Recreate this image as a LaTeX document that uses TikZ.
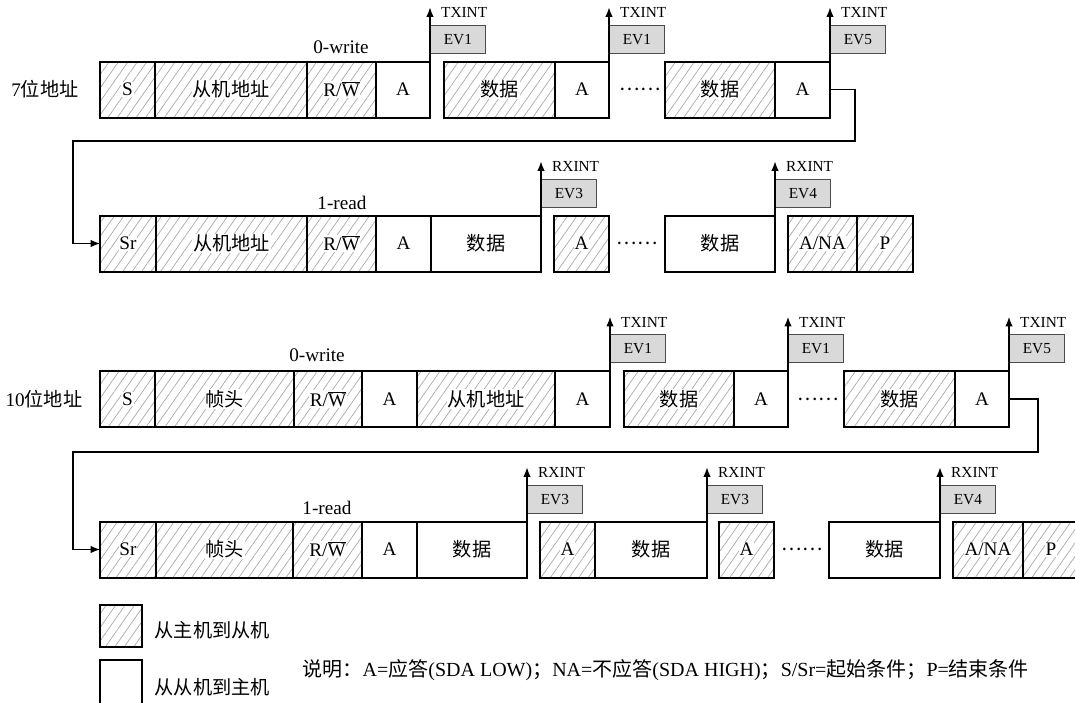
\documentclass[tikz,border=0pt]{standalone}
\usepackage{fontspec}
\setmainfont{Liberation Serif}
\newfontfamily\cjk{Noto Sans CJK SC}
\usepackage{tikz}
\usetikzlibrary{
  arrows.meta,
  patterns.meta,
  positioning
}

\begin{document}
\begin{tikzpicture}[x=0.75pt, y=-0.75pt,
  txt/.style={font=\fontsize{14.4}{17}\selectfont},
  small/.style={font=\fontsize{11.5}{13}\selectfont},
  wd/.style={minimum width=#1*0.75pt},
  field/.style={draw, line width=1.5pt, outer sep=0pt, inner sep=0pt, minimum height=42pt, txt},
  hatch/.style={pattern={Lines[angle=55, distance=5.8pt, line width=0.5pt]}, pattern color=black!35},
  rx/.style={field},
  tx/.style={field, hatch, label={[txt, fill=white, inner sep=0.6pt]center:#1}},
  evbox/.style={draw=black!70, fill=black!15, line width=0.6pt, minimum width=41.25pt, minimum height=21pt, inner sep=0pt, anchor=south west, small},
  irq/.style={small, anchor=west, inner sep=0pt, xshift=8pt, yshift=-4pt},
  link/.style={line width=0.8pt, -{Latex[length=7pt,width=5.5pt]}},
  ]
  \useasboundingbox (0,0) rectangle (1075,703);

  % 7-bit address, write
  \node[txt] (lab7) at (45,89.5) {7{\cjk 位地址}};
  \node[tx={S}, wd=55, anchor=west] (r1s) at (100,89.5) {};
  \node[tx={\cjk 从机地址}, wd=152, right=0pt of r1s] (r1addr) {};
  \node[tx={R/$\overline{\mbox{W}}$}, wd=69, right=0pt of r1addr] (r1rw) {};
  \node[rx, wd=54, right=0pt of r1rw] (r1a0) {A};
  \node[tx={\cjk 数据}, wd=111, right=10.5pt of r1a0] (r1d1) {};
  \node[rx, wd=54, right=0pt of r1d1] (r1a1) {A};
  \node[txt] (r1dots) at (640,89.5) {\cjk ……};
  \node[tx={\cjk 数据}, wd=110, right=42pt of r1a1] (r1d2) {};
  \node[rx, wd=55, right=0pt of r1d2] (r1a2) {A};
  \node[txt] (r1mode) at (341,47) {0-write};

  % 7-bit address, read
  \node[tx={Sr}, wd=56, anchor=west] (r2sr) at (100,243.5) {};
  \node[tx={\cjk 从机地址}, wd=151, right=0pt of r2sr] (r2addr) {};
  \node[tx={R/$\overline{\mbox{W}}$}, wd=69, right=0pt of r2addr] (r2rw) {};
  \node[rx, wd=55, right=0pt of r2rw] (r2a0) {A};
  \node[rx, wd=110, right=0pt of r2a0] (r2d1) {\cjk 数据};
  \node[tx={A}, wd=55, right=9.75pt of r2d1] (r2a1) {};
  \node[txt] (r2dots) at (637,243.5) {\cjk ……};
  \node[rx, wd=110, right=42pt of r2a1] (r2d2) {\cjk 数据};
  \node[tx={A/NA}, wd=69, right=9.75pt of r2d2] (r2na) {};
  \node[tx={P}, wd=56, right=0pt of r2na] (r2p) {};
  \node[txt] (r2mode) at (342,203) {1-read};

  % 10-bit address, write
  \node[txt] (lab10) at (44,399) {10{\cjk 位地址}};
  \node[tx={S}, wd=55, anchor=west] (r3s) at (100,399) {};
  \node[tx={\cjk 帧头}, wd=139, right=0pt of r3s] (r3head) {};
  \node[tx={R/$\overline{\mbox{W}}$}, wd=68, right=0pt of r3head] (r3rw) {};
  \node[rx, wd=55, right=0pt of r3rw] (r3a0) {A};
  \node[tx={\cjk 从机地址}, wd=138, right=0pt of r3a0] (r3addr) {};
  \node[rx, wd=55, right=0pt of r3addr] (r3a1) {A};
  \node[tx={\cjk 数据}, wd=110, right=10.5pt of r3a1] (r3d1) {};
  \node[rx, wd=54, right=0pt of r3d1] (r3a2) {A};
  \node[txt] (r3dots) at (818,399) {\cjk ……};
  \node[tx={\cjk 数据}, wd=111, right=42pt of r3a2] (r3d2) {};
  \node[rx, wd=54, right=0pt of r3d2] (r3a3) {A};
  \node[txt] (r3mode) at (317,355) {0-write};

  % 10-bit address, read
  \node[tx={Sr}, wd=56, anchor=west] (r4sr) at (100,549.5) {};
  \node[tx={\cjk 帧头}, wd=137, right=0pt of r4sr] (r4head) {};
  \node[tx={R/$\overline{\mbox{W}}$}, wd=69, right=0pt of r4head] (r4rw) {};
  \node[rx, wd=55, right=0pt of r4rw] (r4a0) {A};
  \node[rx, wd=110, right=0pt of r4a0] (r4d1) {\cjk 数据};
  \node[tx={A}, wd=55, right=9.75pt of r4d1] (r4a1) {};
  \node[rx, wd=112, right=0pt of r4a1] (r4d2) {\cjk 数据};
  \node[tx={A}, wd=55, right=9pt of r4d2] (r4a2) {};
  \node[txt] (r4dots) at (802,549.5) {\cjk ……};
  \node[rx, wd=111, right=41.25pt of r4a2] (r4d3) {\cjk 数据};
  \node[tx={A/NA}, wd=70, right=9.75pt of r4d3] (r4na) {};
  \node[tx={P}, wd=56, right=0pt of r4na] (r4p) {};
  \node[txt] (r4mode) at (327,508) {1-read};

  % interrupt flags
  \foreach \f/\ev/\kind in {r1a0/EV1/TXINT, r1a1/EV1/TXINT, r1a2/EV5/TXINT,
      r2d1/EV3/RXINT, r2d2/EV4/RXINT,
      r3a1/EV1/TXINT, r3a2/EV1/TXINT, r3a3/EV5/TXINT,
      r4d1/EV3/RXINT, r4d2/EV3/RXINT, r4d3/EV4/RXINT} {
    \node[evbox] (\f-ev) at ([yshift=6pt]\f.north east) {\ev};
    \coordinate (\f-tip) at ([yshift=40.5pt]\f.north east);
    \draw[link] (\f.north east) -- (\f-tip) node[irq] {\kind};
  }

  % repeated start
  \coordinate (t1) at (855,141);
  \coordinate (t2) at (73,141);
  \draw[link] (r1a2.east) -| (t1) -- (t2) |- (r2sr.west);
  \coordinate (t3) at (1038,452);
  \coordinate (t4) at (73,452);
  \draw[link] (r3a3.east) -| (t3) -- (t4) |- (r4sr.west);

  % legend
  \node[field, hatch, wd=42, minimum height=31.5pt] (lgtx) at (121,626) {};
  \node[txt, anchor=west] (lgtxlab) at (150,630) {\cjk 从主机到从机};
  \node[field, wd=42, minimum height=33pt] (lgrx) at (121,682) {};
  \node[txt, anchor=west] (lgrxlab) at (150,687) {\cjk 从从机到主机};
  \node[anchor=west, font=\fontsize{15}{18}\selectfont] (note) at (298,670) {{\cjk 说明：}A={\cjk 应答}(SDA LOW){\cjk ；}NA={\cjk 不应答}(SDA HIGH){\cjk ；}S/Sr={\cjk 起始条件}{\cjk ；}P={\cjk 结束条件}};
\end{tikzpicture}
\end{document}
